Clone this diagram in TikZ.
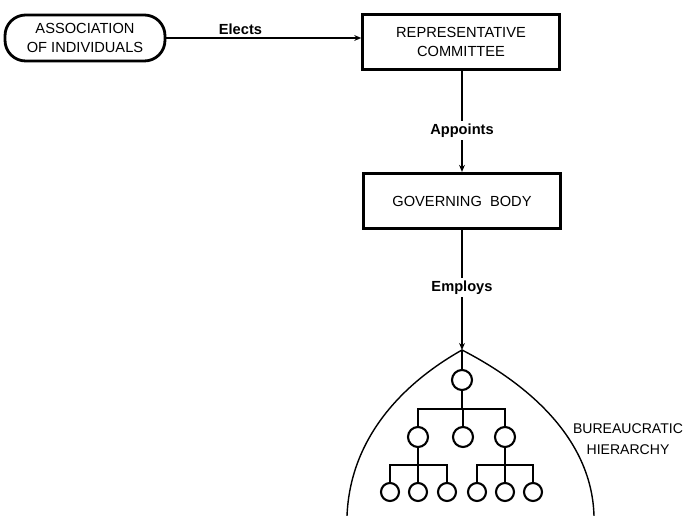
\documentclass[tikz,border=0pt]{standalone}
\usepackage{fontspec}
\setmainfont{Liberation Sans}
\usetikzlibrary{arrows.meta}

\begin{document}
\begin{tikzpicture}[x=0.03cm, y=-0.03cm, >={Stealth[length=6pt,width=5pt]},
  boxstyle/.style={draw=black, line width=2.4pt, minimum width=5.9cm, minimum height=1.66cm, align=center, font=\fontsize{12.5}{17}\selectfont},
  labelstyle/.style={font=\bfseries\fontsize{12.5}{15}\selectfont, inner sep=2pt},
  linkstyle/.style={line width=1.6pt},
  unitstyle/.style={circle, draw=black, line width=1.8pt, minimum size=0.6cm, inner sep=0pt}]

  \useasboundingbox (0,0) rectangle (688,516);

  % top of the chain
  \node[boxstyle, rounded corners=0.62cm, minimum width=4.8cm, minimum height=1.38cm] (assoc) at (85,38) {ASSOCIATION\\OF INDIVIDUALS};
  \node[boxstyle] (rep) at (461,42) {REPRESENTATIVE\\COMMITTEE};
  \node[boxstyle] (gov) at (462,201) {GOVERNING\ \ BODY};

  \draw [linkstyle, ->] (assoc.east) -- (assoc.east -| rep.west) node[labelstyle, above, pos=0.38] {Elects};
  \draw [linkstyle, ->] (rep.south -| gov.north) -- (gov.north) node[labelstyle, fill=white, pos=0.59] {Appoints};

  % the arch
  \coordinate (apex) at (462,350);
  \draw [line width=1.2pt] (347,516) .. controls (350,440) and (400,385) .. (apex) .. controls (530,385) and (592,440) .. (594,516);
  \draw [linkstyle, ->] (gov.south) -- (apex) node[labelstyle, fill=white, pos=0.48] {Employs};

  % the hierarchy
  \node[unitstyle] (t) at (462,380) {};
  \foreach \n/\x in {m1/418,m2/463,m3/505} {
    \node[unitstyle] (\n) at (\x,437) {};
  }
  \foreach \n/\x in {b1/390,b2/418,b3/447,b4/477,b5/505,b6/533} {
    \node[unitstyle, minimum size=0.54cm] (\n) at (\x,492) {};
  }
  \coordinate (j1) at (462,409);
  \coordinate (j2) at (418,465);
  \coordinate (j3) at (505,465);

  \draw [linkstyle] (apex) -- (t);
  \draw [linkstyle] (t) -- (j1);
  \foreach \n in {m1,m2,m3} {
    \draw [linkstyle] (j1) -| (\n);
  }
  \draw [linkstyle] (m1) -- (j2);
  \foreach \n in {b1,b2,b3} {
    \draw [linkstyle] (j2) -| (\n);
  }
  \draw [linkstyle] (m3) -- (j3);
  \foreach \n in {b4,b5,b6} {
    \draw [linkstyle] (j3) -| (\n);
  }

  \node[align=center, font=\fontsize{12}{18}\selectfont] (bur) at (628,439) {BUREAUCRATIC\\HIERARCHY};

\end{tikzpicture}
\end{document}
